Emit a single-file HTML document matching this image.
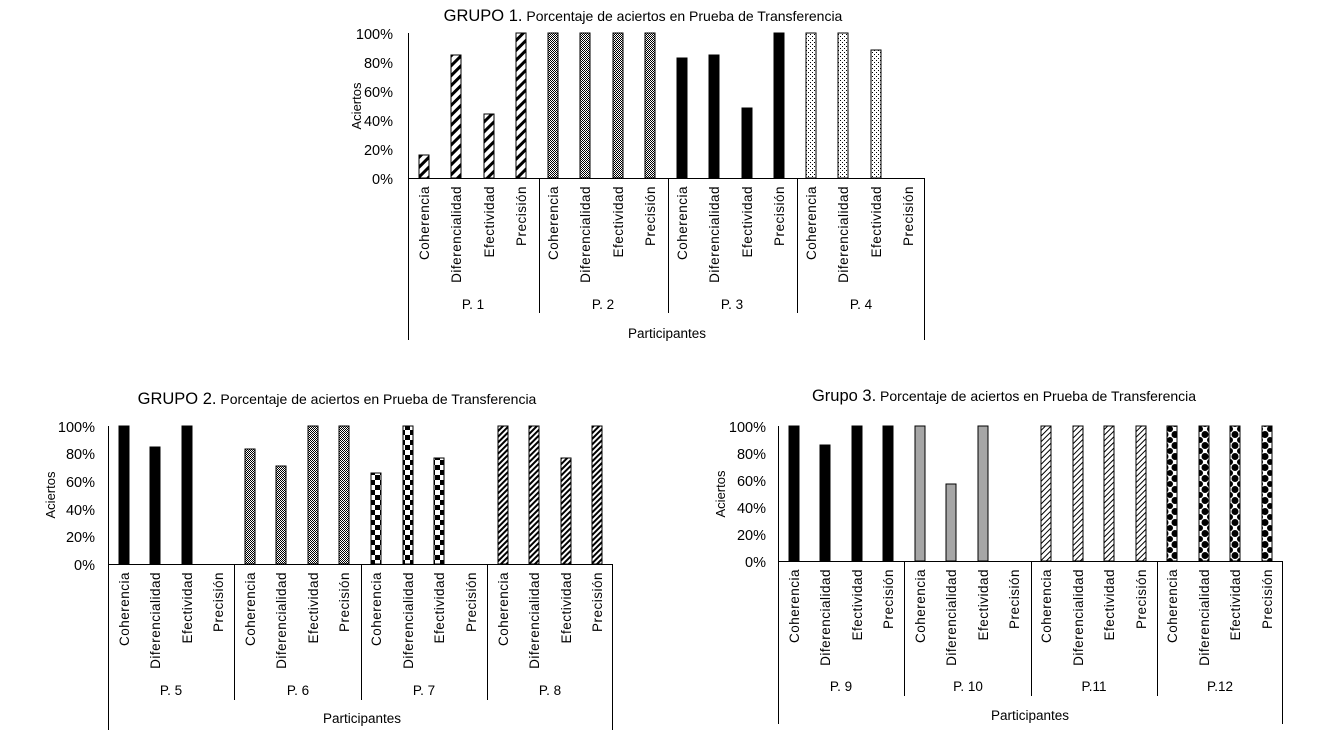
<!DOCTYPE html>
<html><head><meta charset="utf-8"><style>
html,body{margin:0;padding:0;background:#fff;}
svg{display:block;font-family:"Liberation Sans",sans-serif;}
.cat text{font-size:13.5px;letter-spacing:0.5px;}
</style></head><body>
<svg width="1333" height="750" viewBox="0 0 1333 750" xmlns="http://www.w3.org/2000/svg">
<defs>
<pattern id="diag" patternUnits="userSpaceOnUse" width="7" height="7" patternTransform="rotate(45)"><rect width="7" height="7" fill="#fff"/><rect width="3" height="7" fill="#000"/></pattern>
<pattern id="fine" patternUnits="userSpaceOnUse" width="2" height="2"><rect width="2" height="2" fill="#fff"/><rect width="1" height="1" fill="#000"/><rect x="1" y="1" width="1" height="1" fill="#000"/></pattern>
<pattern id="dots" patternUnits="userSpaceOnUse" width="4" height="4"><rect width="4" height="4" fill="#fff"/><rect width="1" height="1" fill="#000"/><rect x="2" y="2" width="1" height="1" fill="#000"/></pattern>
<pattern id="check" patternUnits="userSpaceOnUse" width="10" height="10"><rect width="10" height="10" fill="#fff"/><rect width="5" height="5" fill="#000"/><rect x="5" y="5" width="5" height="5" fill="#000"/></pattern>
<pattern id="diag2" patternUnits="userSpaceOnUse" width="4" height="4" patternTransform="rotate(45)"><rect width="4" height="4" fill="#fff"/><rect width="2" height="4" fill="#000"/></pattern>
<pattern id="diag3" patternUnits="userSpaceOnUse" width="4" height="4" patternTransform="rotate(45)"><rect width="4" height="4" fill="#fff"/><rect width="1" height="4" fill="#000"/></pattern>
<pattern id="polka" patternUnits="userSpaceOnUse" width="10" height="11"><rect width="10" height="11" fill="#fff"/><circle cx="5" cy="5.5" r="3.5" fill="#000"/><circle cx="0" cy="0" r="3" fill="#000"/><circle cx="10" cy="0" r="3" fill="#000"/><circle cx="0" cy="11" r="3" fill="#000"/><circle cx="10" cy="11" r="3" fill="#000"/></pattern>
</defs>

<!-- CHART 1 -->
<text x="643" y="21" text-anchor="middle" font-size="14"><tspan font-size="16.5">GRUPO 1.</tspan> Porcentaje de aciertos en Prueba de Transferencia</text>
<g font-size="14.5" text-anchor="end">
<text x="393" y="39">100%</text><text x="393" y="68">80%</text><text x="393" y="97">60%</text><text x="393" y="126">40%</text><text x="393" y="155">20%</text><text x="393" y="184">0%</text>
</g>
<text transform="translate(361,106) rotate(-90)" text-anchor="middle" font-size="13">Aciertos</text>
<g stroke="#000" stroke-width="1">
<rect x="419" y="155" width="10" height="23" fill="url(#diag)"/>
<rect x="451" y="55" width="10" height="123" fill="url(#diag)"/>
<rect x="484" y="114" width="10" height="64" fill="url(#diag)"/>
<rect x="516" y="33" width="10" height="145" fill="url(#diag)"/>
<rect x="548" y="33" width="10" height="145" fill="url(#fine)"/>
<rect x="580" y="33" width="10" height="145" fill="url(#fine)"/>
<rect x="613" y="33" width="10" height="145" fill="url(#fine)"/>
<rect x="645" y="33" width="10" height="145" fill="url(#fine)"/>
<rect x="677" y="58" width="10" height="120" fill="#000"/>
<rect x="709" y="55" width="10" height="123" fill="#000"/>
<rect x="742" y="108" width="10" height="70" fill="#000"/>
<rect x="774" y="33" width="10" height="145" fill="#000"/>
<rect x="806" y="33" width="10" height="145" fill="url(#dots)"/>
<rect x="838" y="33" width="10" height="145" fill="url(#dots)"/>
<rect x="871" y="50" width="10" height="128" fill="url(#dots)"/>
</g>
<g stroke="#000" stroke-width="1" fill="none">
<line x1="408.5" y1="33" x2="408.5" y2="340"/>
<line x1="408" y1="178.5" x2="925" y2="178.5"/>
<line x1="924.5" y1="178" x2="924.5" y2="340"/>
<line x1="539.5" y1="178" x2="539.5" y2="313"/>
<line x1="668.5" y1="178" x2="668.5" y2="313"/>
<line x1="797.5" y1="178" x2="797.5" y2="313"/>
</g>
<g class="cat" text-anchor="end">
<text transform="translate(429,186) rotate(-90)">Coherencia</text>
<text transform="translate(461,186) rotate(-90)">Diferencialidad</text>
<text transform="translate(494,186) rotate(-90)">Efectividad</text>
<text transform="translate(526,186) rotate(-90)">Precisión</text>
<text transform="translate(558,186) rotate(-90)">Coherencia</text>
<text transform="translate(590,186) rotate(-90)">Diferencialidad</text>
<text transform="translate(623,186) rotate(-90)">Efectividad</text>
<text transform="translate(655,186) rotate(-90)">Precisión</text>
<text transform="translate(687,186) rotate(-90)">Coherencia</text>
<text transform="translate(719,186) rotate(-90)">Diferencialidad</text>
<text transform="translate(752,186) rotate(-90)">Efectividad</text>
<text transform="translate(784,186) rotate(-90)">Precisión</text>
<text transform="translate(816,186) rotate(-90)">Coherencia</text>
<text transform="translate(848,186) rotate(-90)">Diferencialidad</text>
<text transform="translate(881,186) rotate(-90)">Efectividad</text>
<text transform="translate(913,186) rotate(-90)">Precisión</text>
</g>
<g font-size="13.5" text-anchor="middle">
<text x="473" y="309">P. 1</text><text x="603" y="309">P. 2</text><text x="732" y="309">P. 3</text><text x="861" y="309">P. 4</text>
<text x="667" y="338">Participantes</text>
</g>

<!-- CHART 2 -->
<text x="337" y="404" text-anchor="middle" font-size="14"><tspan font-size="16.5">GRUPO 2.</tspan> Porcentaje de aciertos en Prueba de Transferencia</text>
<g font-size="14.5" text-anchor="end">
<text x="95" y="432">100%</text><text x="95" y="459">80%</text><text x="95" y="487">60%</text><text x="95" y="515">40%</text><text x="95" y="542">20%</text><text x="95" y="570">0%</text>
</g>
<text transform="translate(55,495) rotate(-90)" text-anchor="middle" font-size="13">Aciertos</text>
<g stroke="#000" stroke-width="1">
<rect x="119" y="426" width="10" height="138" fill="#000"/>
<rect x="150" y="447" width="10" height="117" fill="#000"/>
<rect x="182" y="426" width="10" height="138" fill="#000"/>
<rect x="245" y="449" width="10" height="115" fill="url(#fine)"/>
<rect x="276" y="466" width="10" height="98" fill="url(#fine)"/>
<rect x="308" y="426" width="10" height="138" fill="url(#fine)"/>
<rect x="339" y="426" width="10" height="138" fill="url(#fine)"/>
<rect x="371" y="473" width="10" height="91" fill="url(#check)"/>
<rect x="403" y="426" width="10" height="138" fill="url(#check)"/>
<rect x="434" y="458" width="10" height="106" fill="url(#check)"/>
<rect x="498" y="426" width="10" height="138" fill="url(#diag2)"/>
<rect x="529" y="426" width="10" height="138" fill="url(#diag2)"/>
<rect x="561" y="458" width="10" height="106" fill="url(#diag2)"/>
<rect x="592" y="426" width="10" height="138" fill="url(#diag2)"/>
</g>
<g stroke="#000" stroke-width="1" fill="none">
<line x1="108.5" y1="426" x2="108.5" y2="730"/>
<line x1="108" y1="564.5" x2="613" y2="564.5"/>
<line x1="612.5" y1="564" x2="612.5" y2="730"/>
<line x1="234.5" y1="564" x2="234.5" y2="700"/>
<line x1="361.5" y1="564" x2="361.5" y2="700"/>
<line x1="487.5" y1="564" x2="487.5" y2="700"/>
</g>
<g class="cat" text-anchor="end">
<text transform="translate(129,572) rotate(-90)">Coherencia</text>
<text transform="translate(160,572) rotate(-90)">Diferencialidad</text>
<text transform="translate(192,572) rotate(-90)">Efectividad</text>
<text transform="translate(223,572) rotate(-90)">Precisión</text>
<text transform="translate(255,572) rotate(-90)">Coherencia</text>
<text transform="translate(286,572) rotate(-90)">Diferencialidad</text>
<text transform="translate(318,572) rotate(-90)">Efectividad</text>
<text transform="translate(349,572) rotate(-90)">Precisión</text>
<text transform="translate(381,572) rotate(-90)">Coherencia</text>
<text transform="translate(413,572) rotate(-90)">Diferencialidad</text>
<text transform="translate(444,572) rotate(-90)">Efectividad</text>
<text transform="translate(476,572) rotate(-90)">Precisión</text>
<text transform="translate(508,572) rotate(-90)">Coherencia</text>
<text transform="translate(539,572) rotate(-90)">Diferencialidad</text>
<text transform="translate(571,572) rotate(-90)">Efectividad</text>
<text transform="translate(602,572) rotate(-90)">Precisión</text>
</g>
<g font-size="13.5" text-anchor="middle">
<text x="171" y="695">P. 5</text><text x="298" y="695">P. 6</text><text x="424" y="695">P. 7</text><text x="550" y="695">P. 8</text>
<text x="362" y="723">Participantes</text>
</g>

<!-- CHART 3 -->
<text x="1004" y="401" text-anchor="middle" font-size="14"><tspan font-size="16.5">Grupo 3.</tspan> Porcentaje de aciertos en Prueba de Transferencia</text>
<g font-size="14.5" text-anchor="end">
<text x="766" y="432">100%</text><text x="766" y="459">80%</text><text x="766" y="486">60%</text><text x="766" y="513">40%</text><text x="766" y="540">20%</text><text x="766" y="567">0%</text>
</g>
<text transform="translate(725,494) rotate(-90)" text-anchor="middle" font-size="13">Aciertos</text>
<g stroke="#000" stroke-width="1">
<rect x="789" y="426" width="10" height="135" fill="#000"/>
<rect x="820" y="445" width="10" height="116" fill="#000"/>
<rect x="852" y="426" width="10" height="135" fill="#000"/>
<rect x="883" y="426" width="10" height="135" fill="#000"/>
<rect x="915" y="426" width="10" height="135" fill="#a6a6a6"/>
<rect x="946" y="484" width="10" height="77" fill="#a6a6a6"/>
<rect x="978" y="426" width="10" height="135" fill="#a6a6a6"/>
<rect x="1041" y="426" width="10" height="135" fill="url(#diag3)"/>
<rect x="1073" y="426" width="10" height="135" fill="url(#diag3)"/>
<rect x="1104" y="426" width="10" height="135" fill="url(#diag3)"/>
<rect x="1136" y="426" width="10" height="135" fill="url(#diag3)"/>
<rect x="1167" y="426" width="10" height="135" fill="url(#polka)"/>
<rect x="1199" y="426" width="10" height="135" fill="url(#polka)"/>
<rect x="1230" y="426" width="10" height="135" fill="url(#polka)"/>
<rect x="1262" y="426" width="10" height="135" fill="url(#polka)"/>
</g>
<g stroke="#000" stroke-width="1" fill="none">
<line x1="778.5" y1="426" x2="778.5" y2="724"/>
<line x1="778" y1="561.5" x2="1283" y2="561.5"/>
<line x1="1282.5" y1="561" x2="1282.5" y2="724"/>
<line x1="904.5" y1="561" x2="904.5" y2="696"/>
<line x1="1031.5" y1="561" x2="1031.5" y2="696"/>
<line x1="1157.5" y1="561" x2="1157.5" y2="696"/>
</g>
<g class="cat" text-anchor="end">
<text transform="translate(799,569) rotate(-90)">Coherencia</text>
<text transform="translate(830,569) rotate(-90)">Diferencialidad</text>
<text transform="translate(862,569) rotate(-90)">Efectividad</text>
<text transform="translate(893,569) rotate(-90)">Precisión</text>
<text transform="translate(925,569) rotate(-90)">Coherencia</text>
<text transform="translate(956,569) rotate(-90)">Diferencialidad</text>
<text transform="translate(988,569) rotate(-90)">Efectividad</text>
<text transform="translate(1019,569) rotate(-90)">Precisión</text>
<text transform="translate(1051,569) rotate(-90)">Coherencia</text>
<text transform="translate(1083,569) rotate(-90)">Diferencialidad</text>
<text transform="translate(1114,569) rotate(-90)">Efectividad</text>
<text transform="translate(1146,569) rotate(-90)">Precisión</text>
<text transform="translate(1177,569) rotate(-90)">Coherencia</text>
<text transform="translate(1209,569) rotate(-90)">Diferencialidad</text>
<text transform="translate(1240,569) rotate(-90)">Efectividad</text>
<text transform="translate(1272,569) rotate(-90)">Precisión</text>
</g>
<g font-size="13.5" text-anchor="middle">
<text x="841" y="691">P. 9</text><text x="968" y="691">P. 10</text><text x="1094" y="691">P.11</text><text x="1220" y="691">P.12</text>
<text x="1030" y="720">Participantes</text>
</g>
</svg>
</body></html>
